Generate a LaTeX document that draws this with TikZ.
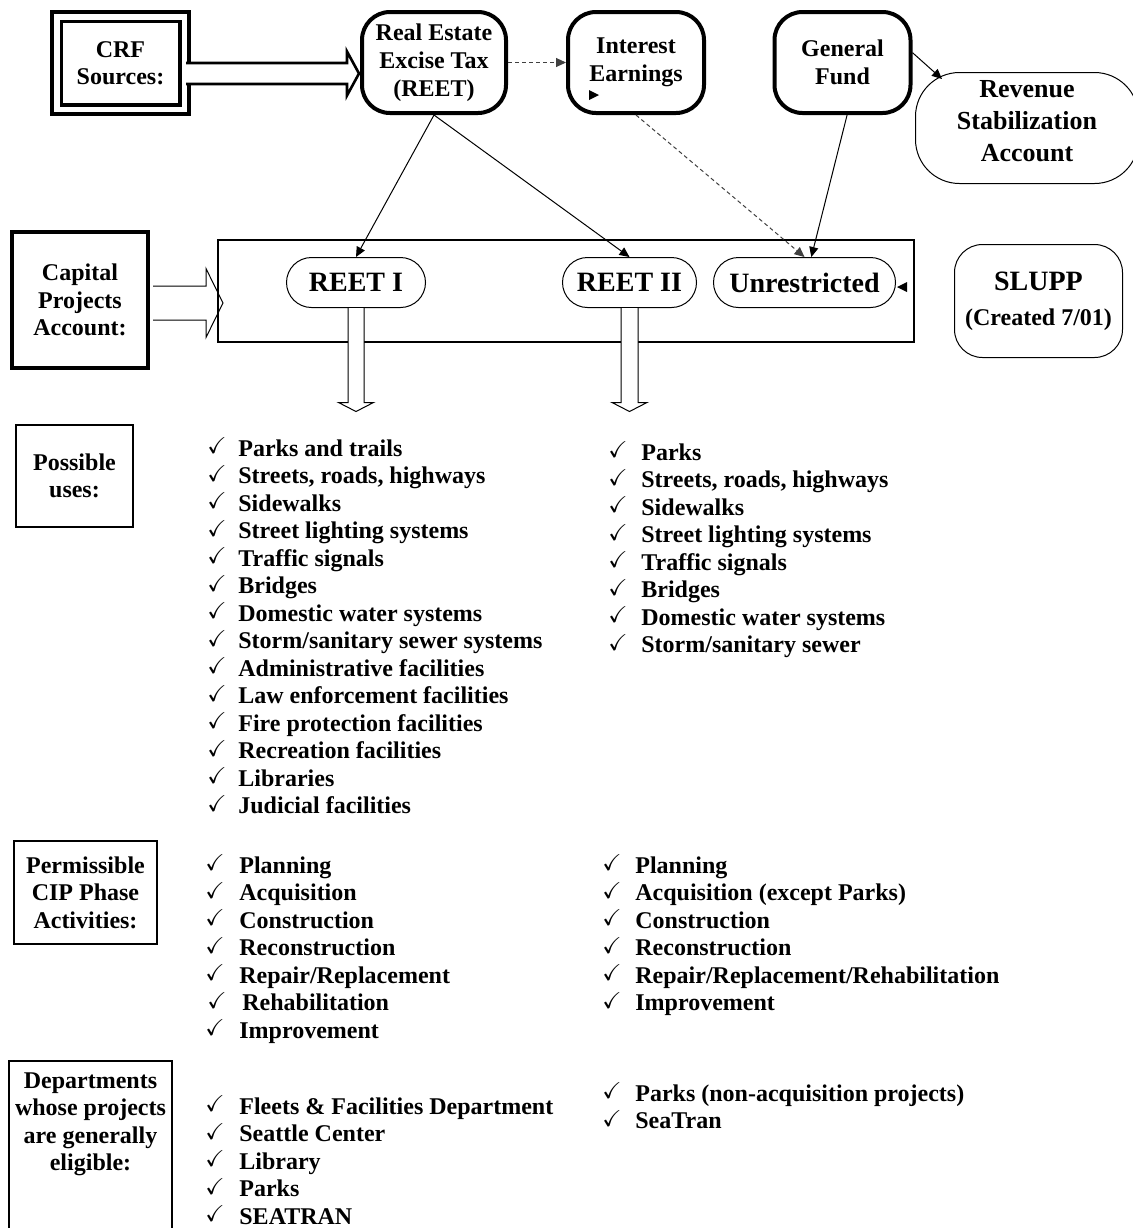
\documentclass[tikz,border=0pt]{standalone}
\usepackage{fontspec}
\setmainfont{Liberation Serif}
\usepackage{amssymb}
\usetikzlibrary{arrows.meta,positioning,calc,shapes.misc}

% check mark in front of a list entry (optional: width of the mark column)
\newcommand\chk[1][15.5pt]{\makebox[#1][l]{\rule{0pt}{10pt}\raisebox{1.4pt}{\fontsize{11.5}{11.5}\selectfont\checkmark}}\ignorespaces}

% hollow block arrows: [style]{tail}{tip}{half shaft}{half head}{head length}
\newcommand\blockright[6][]{%
  \draw[#1] ($#2+(0,-#4)$) -- ($#3+(-#6,-#4)$) -- ($#3+(-#6,-#5)$) -- #3
    -- ($#3+(-#6,#5)$) -- ($#3+(-#6,#4)$) -- ($#2+(0,#4)$);}
\newcommand\blockdown[6][]{%
  \draw[#1] ($#2+(-#4,0)$) -- ($#3+(-#4,-#6)$) -- ($#3+(-#5,-#6)$) -- #3
    -- ($#3+(#5,-#6)$) -- ($#3+(#4,-#6)$) -- ($#2+(#4,0)$);}

\begin{document}
\begin{tikzpicture}[
  x=0.5pt, y=-0.5pt,
  >={Triangle[length=5pt,width=4.5pt]},
  txt/.style      = {font=\fontsize{12}{13.75}\selectfont\bfseries, align=center},
  dblbox/.style   = {txt, draw, double, line width=1.9pt, double distance=2.8pt,
                     minimum width=63.8pt, minimum height=46.3pt},
  srcbox/.style   = {txt, draw, line width=2pt, rounded corners=14pt,
                     minimum width=68pt, minimum height=50.5pt},
  capbox/.style   = {txt, draw, line width=2pt, minimum width=68pt, minimum height=68pt},
  plainbox/.style = {txt, draw, line width=1pt},
  pill/.style     = {draw, line width=0.5pt, rounded rectangle, minimum height=25pt,
                     inner sep=0pt, font=\fontsize{14}{16}\selectfont\bfseries},
  oval/.style     = {txt, draw, line width=0.5pt},
  listing/.style  = {font=\fontsize{12}{13.75}\selectfont\bfseries, align=left,
                     anchor=north west, inner sep=0pt},
  link/.style     = {->, line width=0.5pt},
  dotlink/.style  = {link, black!75, dash pattern=on 2pt off 1.5pt},
  hollow/.style   = {line width=0.5pt, fill=white}
]
\useasboundingbox (0,0) rectangle (1132,1228);

% ---- sources ----
\node[dblbox] (crf) at (120.5,63) {CRF\\Sources:};
\node[srcbox, minimum width=72pt, font=\fontsize{12}{14}\selectfont\bfseries]
  (reet) at (434,62.5) {Real Estate\\Excise Tax\\(REET)};
\node[srcbox] (interest) at (636,62.5) {Interest\\Earnings};
\node[srcbox] (genfund) at (842.5,62.5) {General\\Fund};
\node[oval, rounded corners=22pt, minimum width=111.5pt, minimum height=55.5pt,
      font=\fontsize{13}{16}\selectfont\bfseries, text depth=7pt] (revenue) at (1027,128)
  {Revenue\\Stabilization\\Account};
\coordinate (revtip) at (942,79);

% ---- capital projects account ----
\node[capbox] (cap) at (80,300) {Capital\\Projects\\Account:};
\node[draw, line width=1.2pt, minimum width=347.8pt, minimum height=50.8pt] (account) at (566,291) {};
\node[pill, minimum width=69.5pt] (reet1) at (356,282.5) {REET I};
\node[pill, minimum width=67pt] (reet2) at (629.5,282.5) {REET II};
\node[pill, minimum width=91pt] (unres) at (804.5,282.5) {Unrestricted};
\node[oval, rounded corners=14pt, minimum width=84pt, minimum height=56.5pt,
      font=\fontsize{12}{17.5}\selectfont\bfseries] (slupp) at (1038.5,301)
  {{\fontsize{14}{17.5}\selectfont SLUPP}\\(Created 7/01)};

% ---- block arrows ----
\coordinate (crftail) at ($(crf.east)+(0,10.5)$);
\coordinate (crftip) at ($(reet.west)+(-1,11)$);
\blockright[line width=1.3pt, fill=white]{(crftail)}{(crftip)}{10.5}{22}{12}
\coordinate (captail) at ($(cap.east)+(3,3)$);
\coordinate (captip) at ($(account.west)+(6,12)$);
\blockright[line width=0.5pt]{(captail)}{(captip)}{17}{34.5}{17}
\coordinate (r1tip) at ($(reet1.south)+(0,103.5)$);
\coordinate (r2tip) at ($(reet2.south)+(0,103.5)$);
\blockdown[hollow]{(reet1.south)}{(r1tip)}{8}{17.5}{9}
\blockdown[hollow]{(reet2.south)}{(r2tip)}{8.5}{17.5}{9}

% ---- connectors ----
\draw[dotlink] (reet.east) -- (interest.west);
\draw[link] (reet.south) -- (reet1.north);
\draw[link] (reet.south) -- (reet2.north);
\draw[dotlink] (interest.south) -- (unres.north);
\draw[link] (genfund.-85) -- (unres.75);
\draw[link] (genfund.8) -- (revtip);
% loose arrow heads
\fill ($(interest.center)+(-47,27.5)$) -- ++(10,5) -- ++(-10,5) -- cycle;
\fill ($(unres.east)+(1,4.5)$) -- ++(10,-5) -- ++(0,10) -- cycle;

% ---- possible uses ----
\node[plainbox, minimum width=58.5pt, minimum height=51pt] (uses) at (74.5,476) {Possible\\uses:};
\node[listing] (usesA) at (207,436) {
  \chk Parks and trails\\
  \chk Streets, roads, highways\\
  \chk Sidewalks\\
  \chk Street lighting systems\\
  \chk Traffic signals\\
  \chk Bridges\\
  \chk Domestic water systems\\
  \chk Storm/sanitary sewer systems\\
  \chk Administrative facilities\\
  \chk Law enforcement facilities\\
  \chk Fire protection facilities\\
  \chk Recreation facilities\\
  \chk Libraries\\
  \chk Judicial facilities};
\node[listing] (usesB) at (608,440) {
  \chk[16.5pt] Parks\\
  \chk[16.5pt] Streets, roads, highways\\
  \chk[16.5pt] Sidewalks\\
  \chk[16.5pt] Street lighting systems\\
  \chk[16.5pt] Traffic signals\\
  \chk[16.5pt] Bridges\\
  \chk[16.5pt] Domestic water systems\\
  \chk[16.5pt] Storm/sanitary sewer};

% ---- permissible phases ----
\node[plainbox, minimum width=71.5pt, minimum height=51.5pt] (phases) at (85.5,892.5)
  {Permissible\\CIP Phase\\Activities:};
\node[listing] (phaseA) at (205,853) {
  \chk[17pt] Planning\\
  \chk[17pt] Acquisition\\
  \chk[17pt] Construction\\
  \chk[17pt] Reconstruction\\
  \chk[17pt] Repair/Replacement\\
  \hspace*{1pt}\chk[17.5pt] Rehabilitation\\
  \chk[17pt] Improvement};
\node[listing] (phaseB) at (602,853) {
  \chk[16.5pt] Planning\\
  \chk[16.5pt] Acquisition (except Parks)\\
  \chk[16.5pt] Construction\\
  \chk[16.5pt] Reconstruction\\
  \chk[16.5pt] Repair/Replacement/Rehabilitation\\
  \chk[16.5pt] Improvement};

% ---- departments ----
\node[plainbox, minimum width=81.5pt, minimum height=94.5pt] (depts) at (90.5,1155.5) {};
\node[txt, inner sep=0pt, below=6pt of depts.north] (deptstext)
  {Departments\\whose projects\\are generally\\eligible:};
\node[listing] (deptA) at (205,1094) {
  \chk[17pt] Fleets \& Facilities Department\\
  \chk[17pt] Seattle Center\\
  \chk[17pt] Library\\
  \chk[17pt] Parks\\
  \chk[17pt] SEATRAN};
\node[listing] (deptB) at (602,1081) {
  \chk[16.5pt] Parks (non-acquisition projects)\\
  \chk[16.5pt] SeaTran};

\end{tikzpicture}
\end{document}
